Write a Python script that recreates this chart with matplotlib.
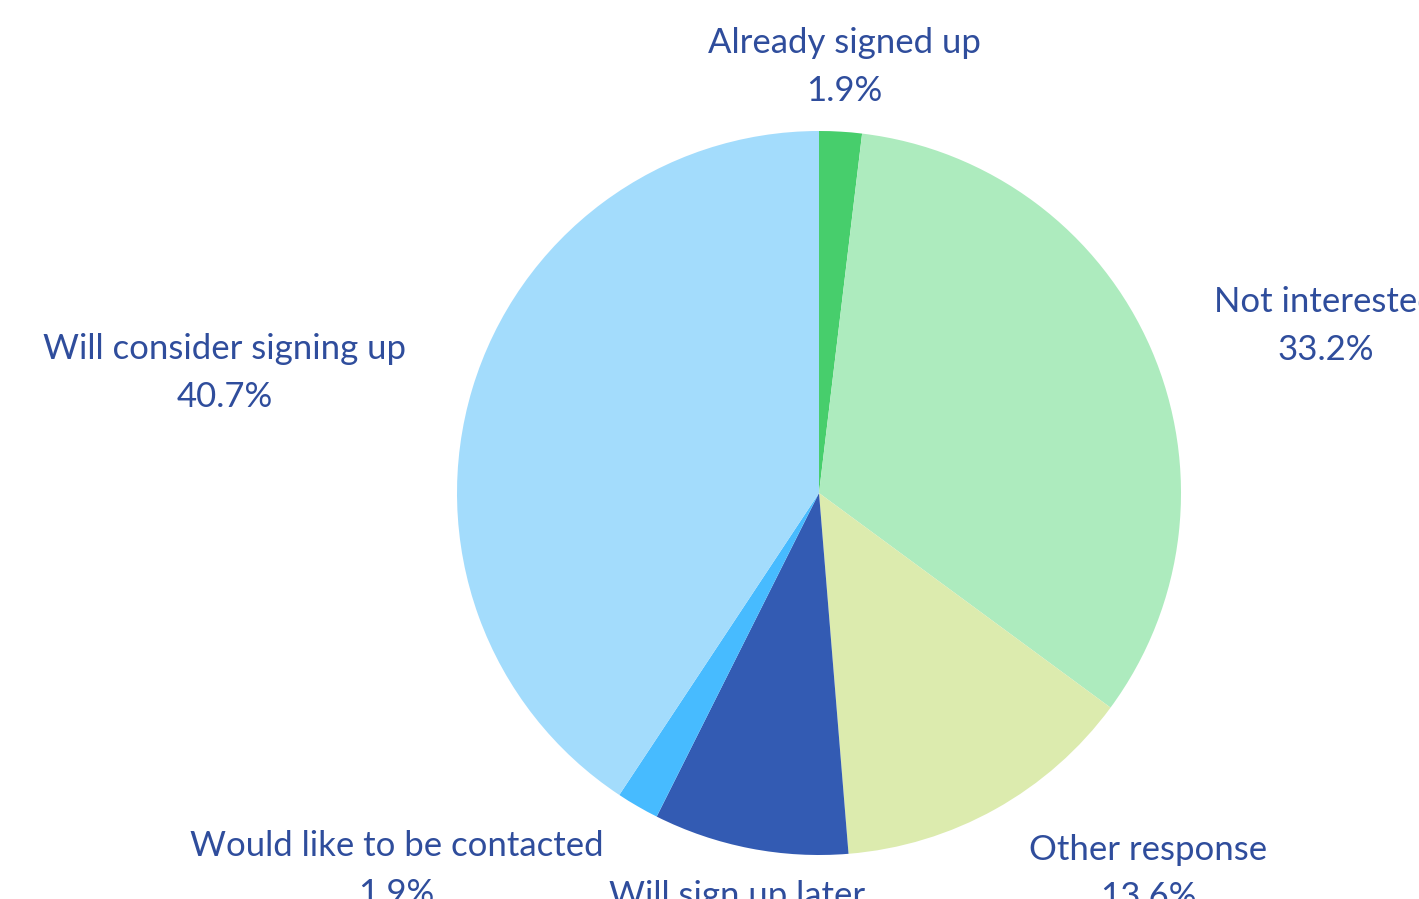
import numpy as np
import matplotlib
matplotlib.use("Agg")
import matplotlib.pyplot as plt

categories = ["Already signed up", "Not interested", "Other response",
              "Will sign up later", "Would like to be contacted",
              "Will consider signing up"]
values = [1.9, 33.2, 13.6, 8.7, 1.9, 40.7]
colors = ["#47CE6C", "#ADEBBE", "#DCEBAE", "#335BB3", "#47BBFF", "#A3DCFC"]
text_color = "#2F4D9C"

W, H = 1419, 899
cx, cy, R = 819, 493, 362

fig = plt.figure(figsize=(W / 100, H / 100), dpi=100)
ax = fig.add_axes([0, 0, 1, 1])
ax.pie(values, colors=colors, startangle=90, counterclock=False,
       radius=1, wedgeprops=dict(linewidth=0))
ax.set_xlim(-cx / R, (W - cx) / R)
ax.set_ylim(-(H - cy) / R, cy / R)
ax.set_aspect("auto")
ax.axis("off")

total = sum(values)
cum = 0.0
for cat, v in zip(categories, values):
    mid = 90 - (cum + v / 2) / total * 360
    cum += v
    a = np.deg2rad(mid)
    x, y = 1.19 * np.cos(a), 1.19 * np.sin(a)
    c = np.cos(a)
    if abs(c) < 0.3:
        ha = "center"
    elif c > 0:
        ha = "left"
    else:
        ha = "right"
    ax.annotate(f"{cat}\n{v:.1f}%", xy=(x, y), xytext=(0, -3),
                textcoords="offset points", ha=ha, va="center",
                multialignment="center", fontsize=25, family="Lato",
                color=text_color, linespacing=1.6, annotation_clip=False)

fig.savefig("out.png", dpi=100)
